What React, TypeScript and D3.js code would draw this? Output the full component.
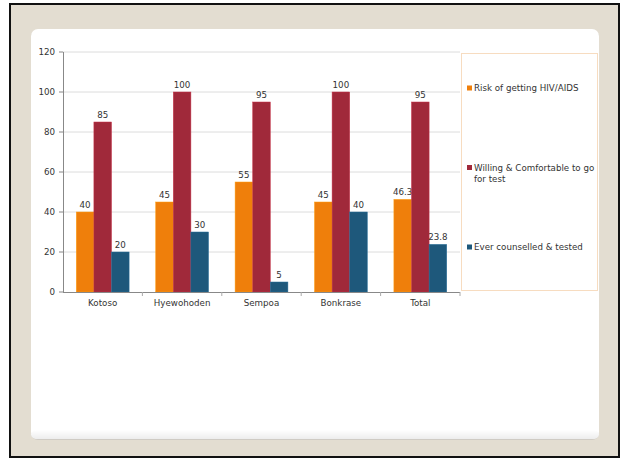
import React from "react";
import * as d3 from "d3";

const categories = ["Kotoso", "Hyewohoden", "Sempoa", "Bonkrase", "Total"];
const seriesNames = [
  "Risk of getting HIV/AIDS",
  "Willing & Comfortable to go for test",
  "Ever counselled & tested",
];
const riskValues = [40, 45, 55, 45, 46.3];
const willingValues = [85, 100, 95, 100, 95];
const testedValues = [20, 30, 5, 40, 23.8];
const yTicks = [0, 20, 40, 60, 80, 100, 120];
const legendLines = [
  ["Risk of getting HIV/AIDS"],
  ["Willing & Comfortable to go", "for test"],
  ["Ever counselled & tested"],
];

const colors = ["#EF7F0B", "#A0293A", "#1E587B"];
const FONT = "'DejaVu Sans', Verdana, sans-serif";
const FS = 8.7;
const TXT = "#333";

export default function App() {
  const W = 622;
  const H = 459;
  const plot = { left: 63, right: 460, top: 52, bottom: 292 };
  const x0 = d3
    .scaleBand<string>()
    .domain(categories)
    .range([plot.left, plot.right])
    .paddingInner(0.335)
    .paddingOuter(0.1675);
  const x1 = d3
    .scaleBand<number>()
    .domain([0, 1, 2])
    .range([0, x0.bandwidth()]);
  const y = d3.scaleLinear().domain([0, 120]).range([plot.bottom, plot.top]);
  const series = [riskValues, willingValues, testedValues];
  const step = x0.step();

  return (
    <svg
      width={W}
      height={H}
      style={{ position: "absolute", left: 0, top: 0, display: "block" }}
      fontFamily={FONT}
    >
      <defs>
        <linearGradient id="shadow" x1="0" y1="0" x2="0" y2="1">
          <stop offset="0" stopColor="#ffffff" />
          <stop offset="1" stopColor="#ededed" />
        </linearGradient>
      </defs>
      <rect x={0} y={0} width={W} height={H} fill="#ffffff" />
      <rect x={10} y={4} width={609} height={453} fill="#E3DDD1" stroke="#111" strokeWidth={2} />
      <rect x={31} y={30} width={568} height={410} rx={7} fill="#cfcbc4" />
      <rect x={31} y={29} width={568} height={410} rx={7} fill="#ffffff" />
      <rect x={31} y={430} width={568} height={9} rx={6} fill="url(#shadow)" />

      {/* grid */}
      {yTicks.map((t) => (
        <g key={t}>
          {t > 0 && (
            <line x1={plot.left} x2={plot.right} y1={y(t)} y2={y(t)} stroke="#DCDCDC" strokeWidth={1} />
          )}
          <line x1={plot.left - 4} x2={plot.left} y1={y(t)} y2={y(t)} stroke="#888" strokeWidth={1} />
          <text x={plot.left - 8} y={y(t) + 3} textAnchor="end" fontSize={FS} fill={TXT}>
            {t}
          </text>
        </g>
      ))}

      {/* bars */}
      {series.map((vals, si) => (
        <g key={si}>
          {vals.map((v, ci) => {
            const bx = (x0(categories[ci]) as number) + (x1(si) as number);
            return (
              <rect
                key={ci}
                x={bx}
                y={y(v)}
                width={x1.bandwidth()}
                height={y(0) - y(v)}
                fill={colors[si]}
                stroke={d3.color(colors[si])!.brighter(0.6).toString()}
                strokeWidth={0.5}
              />
            );
          })}
          {vals.map((v, ci) => {
            const bx = (x0(categories[ci]) as number) + (x1(si) as number) + x1.bandwidth() / 2;
            return (
              <text key={"t" + ci} x={bx} y={y(v) - 4} textAnchor="middle" fontSize={FS} fill={TXT}>
                {v}
              </text>
            );
          })}
        </g>
      ))}

      {/* axes */}
      <line x1={plot.left + 0.5} x2={plot.left + 0.5} y1={plot.top} y2={plot.bottom} stroke="#888" />
      <line x1={plot.left} x2={plot.right} y1={plot.bottom + 0.5} y2={plot.bottom + 0.5} stroke="#888" />
      {categories.map((c, i) => (
        <g key={c}>
          <line
            x1={plot.left + step * (i + 1)}
            x2={plot.left + step * (i + 1)}
            y1={plot.bottom}
            y2={plot.bottom + 4}
            stroke="#aaa"
          />
          <text
            x={(x0(c) as number) + x0.bandwidth() / 2}
            y={plot.bottom + 14}
            textAnchor="middle"
            fontSize={FS}
            fill={TXT}
          >
            {c}
          </text>
        </g>
      ))}

      {/* legend */}
      <rect x={461.5} y={53.5} width={136} height={237} fill="none" stroke="#F7DCC0" strokeWidth={1} />
      {seriesNames.map((name, i) => {
        const cy = 88 + i * 79.5;
        return (
          <g key={name}>
            <rect x={467} y={cy - 2.5} width={5} height={5} fill={colors[i]} />
            {legendLines[i].map((ln, li) => (
              <text key={li} x={474} y={cy + 3 + li * 11} fontSize={FS} fill={TXT}>
                {ln}
              </text>
            ))}
          </g>
        );
      })}
    </svg>
  );
}
